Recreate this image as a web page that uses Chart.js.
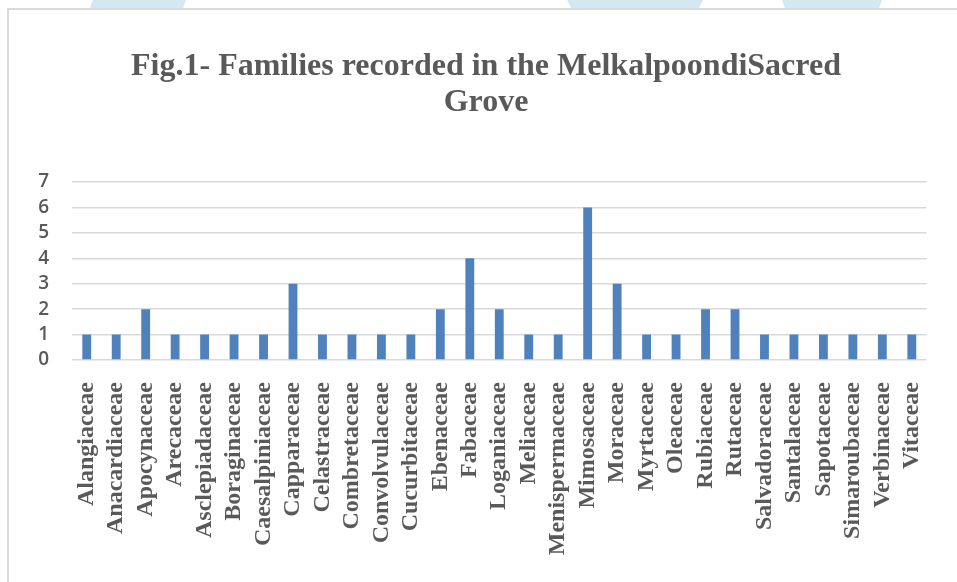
<!DOCTYPE html>
<html>
<head>
<meta charset="utf-8">
<script src="https://cdn.jsdelivr.net/npm/chart.js@4.4.1/dist/chart.umd.min.js"></script>
<style>
  html, body { margin: 0; padding: 0; background: #fff; width: 957px; height: 582px; overflow: hidden; position: relative; }
  .stripe { position: absolute; top: 0; height: 8px; background: #d4e8f1; }
  .box { position: absolute; left: 7px; top: 8px; width: 960px; height: 580px;
         border-top: 2px solid #d9d9d9; border-left: 2px solid #d9d9d9; }
  #chart { position: absolute; left: 9px; top: 9px; }
</style>
</head>
<body>
<div class="stripe" style="left:90px;width:96px;clip-path:polygon(3% 0,100% 0,97% 100%,0 100%);"></div>
<div class="stripe" style="left:567px;width:136px;clip-path:polygon(0 0,100% 0,97% 100%,3% 100%);"></div>
<div class="stripe" style="left:782px;width:100px;clip-path:polygon(0 0,100% 0,97% 100%,3% 100%);"></div>
<div class="box"></div>
<canvas id="chart" width="954" height="573"></canvas>
<script>
// Số liệu
const families = [
  "Alangiaceae", "Anacardiaceae", "Apocynaceae", "Arecaceae", "Asclepiadaceae",
  "Boraginaceae", "Caesalpiniaceae", "Capparaceae", "Celastraceae", "Combretaceae",
  "Convolvulaceae", "Cucurbitaceae", "Ebenaceae", "Fabaceae", "Loganiaceae",
  "Meliaceae", "Menispermaceae", "Mimosaceae", "Moraceae", "Myrtaceae",
  "Oleaceae", "Rubiaceae", "Rutaceae", "Salvadoraceae", "Santalaceae",
  "Sapotaceae", "Simaroubaceae", "Verbinaceae", "Vitaceae"
];
const counts = [
  1, 1, 2, 1, 1,
  1, 1, 3, 1, 1,
  1, 1, 2, 4, 2,
  1, 1, 6, 3, 1,
  1, 2, 2, 1, 1,
  1, 1, 1, 1
];
const yTicks = [0, 1, 2, 3, 4, 5, 6, 7];
const titleLines = ["Fig.1- Families recorded in the MelkalpoondiSacred", "Grove"];

const ctx = document.getElementById("chart").getContext("2d");
new Chart(ctx, {
  type: "bar",
  data: {
    labels: families,
    datasets: [{
      label: "Families",
      data: counts,
      backgroundColor: "#4f81bd",
      borderWidth: 0,
      barPercentage: 0.3,
      categoryPercentage: 1
    }]
  },
  options: {
    responsive: false,
    animation: false,
    // padding trái để tiêu đề nằm giữa khung
    layout: { padding: { left: 23, right: 23, top: 0, bottom: 0 } },
    plugins: {
      legend: { display: false },
      tooltip: { enabled: false },
      title: {
        display: true,
        text: titleLines,
        color: "#595959",
        font: { family: "'Liberation Serif', 'Times New Roman', serif", size: 32, weight: "bold", lineHeight: 1.125 },
        padding: { top: 40, bottom: 61 }
      }
    },
    scales: {
      x: {
        grid: { display: false, drawTicks: false },
        border: { display: false },
        ticks: {
          autoSkip: false,
          maxRotation: 90,
          minRotation: 90,
          padding: 22,
          color: "#595959",
          font: { family: "'Liberation Serif', 'Times New Roman', serif", size: 24, weight: "bold" }
        },
        afterFit: function (axis) { axis.height = 222; }
      },
      y: {
        min: yTicks[0],
        max: yTicks[yTicks.length - 1],
        afterBuildTicks: function (axis) { axis.ticks = yTicks.map(v => ({ value: v })); },
        grid: { color: "#d9d9d9", lineWidth: 1.5, drawTicks: false },
        border: { display: false },
        ticks: {
          autoSkip: false,
          padding: 23,
          color: "#595959",
          font: { family: "'Open Sans', sans-serif", size: 19, weight: "600", lineHeight: 1 }
        },
        afterFit: function (axis) { axis.width = 40; }
      }
    }
  }
});
</script>
</body>
</html>
